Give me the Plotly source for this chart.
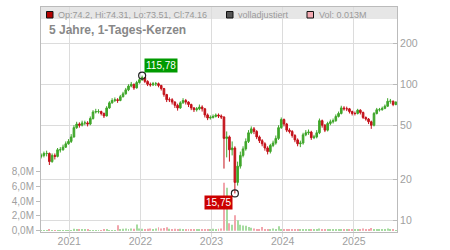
import math
import pandas as pd
import plotly.graph_objects as go

# ---- data ----
dates = pd.date_range("2020-08-10", periods=131, freq="14D")

close = [30, 31, 31, 27, 30, 29.5, 33, 33, 34.5, 36.5,
         38, 41, 48, 51, 50, 52, 52, 51, 56, 62.5,
         63, 63, 61, 58.5, 67, 73, 76, 77, 76, 81,
         85, 91, 97, 100, 94, 103, 108, 112, 105, 100,
         99, 101, 101, 98, 93, 84, 77, 77, 74, 70,
         67, 73, 76, 74, 71, 67, 65, 66, 68, 66,
         59.5, 56.5, 57, 58, 59.4, 58.5, 57.5, 40, 41, 33,
         34, 19, 25, 30, 33.5, 38, 44, 47, 45, 41,
         38.5, 36.5, 34, 32, 35.5, 37, 40, 48, 55, 51,
         46, 45, 42, 39, 36.5, 37, 42.5, 44, 44.5, 40.5,
         41, 44, 54, 50, 46, 51.5, 53, 54, 58, 61,
         67, 66, 66, 63, 61, 61, 64.5, 62, 57, 55.5,
         53, 50, 61, 65, 65, 66.5, 69, 75, 75, 71,
         74.16]

high = [31, 32, 32.5, 31.5, 31, 31, 34, 34.5, 36, 38,
        39.5, 43, 50, 53, 52.5, 54, 54, 53.5, 58, 64.5,
        66, 65.5, 64, 62, 69, 75, 79, 80, 79, 83.5,
        88, 94, 100, 104, 101, 106, 111, 115.78, 113, 107,
        103, 104, 104, 103, 99, 94, 85, 80, 79, 75,
        72, 75, 79, 78, 75, 72, 68, 68, 71, 70,
        67, 61, 59, 60, 61, 61, 60, 58, 45, 42,
        38, 35, 27, 32, 35, 40, 46, 49, 48.5, 46,
        42, 39.5, 37.5, 35, 36.5, 38.5, 42, 50, 57, 56,
        52, 47.5, 46, 43, 40, 38.5, 44, 46, 46.5, 45.5,
        42.5, 46, 56, 55, 51, 53, 55, 56, 60, 63,
        69.5, 69, 68.5, 67, 64, 63, 66, 65.5, 63, 58,
        56.5, 54, 62.5, 67, 67, 68.5, 71, 79, 78, 76,
        74.31]

low = [28.5, 29, 29.5, 25.5, 26.5, 28, 29, 31.5, 32.5, 34,
       36, 37, 40.5, 47, 48, 49, 50, 49, 50, 55,
       61, 61, 59, 56.5, 58, 66, 72, 74, 73, 75,
       80, 84, 89, 95, 91, 93, 101, 106, 102, 97,
       96, 97, 97, 95, 90, 81, 74, 74, 71, 67,
       64, 66, 72, 71, 68, 64.5, 62.5, 63, 64.5, 63,
       57, 54.5, 55, 56, 57, 56.5, 55.5, 24, 29, 27,
       30, 15.75, 18, 24, 29, 32.5, 37, 43, 43, 39.5,
       37, 35, 32.5, 30.5, 31, 34.5, 36, 39, 47, 49,
       44.5, 43.5, 40.5, 37.5, 35, 34.5, 36, 41.5, 42.5, 39,
       39.5, 40, 43, 48, 44.5, 45, 50, 51.5, 53, 57,
       60, 64, 63.5, 61, 59, 59, 60, 60, 55.5, 54,
       51, 47, 49, 60, 63, 64, 65.5, 68, 72, 69,
       70]

volume_m = [0.05, 0.03, 0.08, 0.15, 0.05, 0.03, 0.04, 0.05, 0.04, 0.03,
            0.03, 0.05, 0.25, 0.22, 0.2, 0.2, 0.1, 0.12, 0.08, 0.05,
            0.04, 0.05, 0.08, 0.15, 0.12, 0.05, 0.04, 0.06, 0.75, 0.2,
            0.25, 0.3, 0.2, 0.3, 0.25, 0.85, 0.3, 0.25, 0.2, 0.25,
            0.3, 0.2, 0.3, 0.45, 0.3, 0.35, 0.45, 0.25, 0.2, 0.25,
            0.2, 0.25, 0.2, 0.15, 0.1, 0.1, 0.1, 0.15, 0.2, 0.15,
            0.15, 0.2, 0.2, 0.25, 0.2, 0.25, 0.3, 6.5, 5.8, 1.0,
            0.8, 2.1, 1.4, 0.8, 0.7, 0.65, 0.5, 0.4, 0.3, 0.2,
            0.15, 0.5, 0.15, 0.2, 0.15, 0.3, 0.2, 0.6, 0.2, 0.15,
            0.15, 0.2, 0.15, 0.1, 0.15, 0.15, 0.2, 0.15, 0.1, 0.15,
            0.2, 0.15, 0.3, 0.2, 0.15, 0.15, 0.1, 0.15, 0.1, 0.15,
            0.2, 0.15, 0.1, 0.1, 0.15, 0.1, 0.15, 0.1, 0.3, 0.15,
            0.1, 0.35, 0.2, 0.1, 0.15, 0.15, 0.1, 0.3, 0.15, 0.1,
            0.013]

open_ = [29.5] + close[:-1]

year_ticks = ["2021-01-01", "2022-01-01", "2023-01-01", "2024-01-01", "2025-01-01"]
year_labels = ["2021", "2022", "2023", "2024", "2025"]
price_ticks = [10, 20, 50, 100, 200]
vol_ticks = [0, 2e6, 4e6, 6e6, 8e6]
vol_labels = ["0,0M", "2,0M", "4,0M", "6,0M", "8,0M"]

hi_idx = high.index(max(high))
lo_idx = low.index(min(low))

# ---- figure ----
GREEN = "#3fa62a"
RED = "#c4121b"
vol_colors = ["#a6dba0" if c >= o else "#f2a5ad" for o, c in zip(open_, close)]
FONT = "Liberation Sans, Arial, sans-serif"

fig = go.Figure()
fig.add_trace(go.Bar(
    x=dates, y=[v * 1e6 for v in volume_m], marker=dict(color=vol_colors, line=dict(width=0)),
    width=5 * 86400000, yaxis="y", xaxis="x", hoverinfo="skip"))
fig.add_trace(go.Candlestick(
    x=dates, open=open_, high=high, low=low, close=close, yaxis="y2", xaxis="x",
    increasing=dict(line=dict(color=GREEN, width=1), fillcolor=GREEN),
    decreasing=dict(line=dict(color=RED, width=1), fillcolor=RED),
    whiskerwidth=0))
fig.add_trace(go.Scatter(
    x=[dates[hi_idx], dates[lo_idx]], y=[high[hi_idx], low[lo_idx]], yaxis="y2", mode="markers",
    marker=dict(symbol="circle-open", size=7, color="#222", line=dict(width=1.2))))

axis_font = dict(family=FONT, size=10.5, color="#a0a0a0")
fig.update_layout(
    width=450, height=250, margin=dict(l=41, r=53, t=7, b=18, autoexpand=False),
    paper_bgcolor="white", plot_bgcolor="white", showlegend=False,
    font=dict(family=FONT), boxgap=0.15,
    xaxis=dict(type="date", range=["2020-08-09", "2025-08-10"], tickvals=year_ticks, ticktext=year_labels,
               showgrid=True, gridcolor="#dcdcdc", gridwidth=1, showline=True, linecolor="#bbbbbb",
               mirror=True, ticks="outside", ticklen=4, tickcolor="#dcdcdc", tickfont=axis_font,
               ticklabelstandoff=-5,
               rangeslider=dict(visible=False), zeroline=False, automargin=False),
    yaxis=dict(range=[-0.18e6, 30.3e6], side="left", tickvals=vol_ticks, ticktext=vol_labels,
               showgrid=False, zeroline=False, showline=True, linecolor="#bbbbbb", automargin=False,
               ticks="outside", ticklen=4, tickcolor="#bbbbbb", tickfont=dict(family=FONT, size=10, color="#a0a0a0")),
    yaxis2=dict(type="log", overlaying="y", side="right", range=[0.914, 2.568], tickvals=price_ticks,
                ticktext=[str(t) for t in price_ticks], showgrid=True, gridcolor="#dcdcdc", gridwidth=1,
                showline=True, linecolor="#bbbbbb", ticks="inside", ticklen=4, tickcolor="#bbbbbb",
                tickfont=axis_font, zeroline=False, automargin=False),
)

def px_x(p):
    return (p - 41) / 356.0

def px_y(p):
    return (232 - p) / 225.0

shapes = [
    dict(type="rect", xref="paper", yref="paper", x0=0, x1=1, y0=px_y(19), y1=1,
         fillcolor="#e6e6e6", line=dict(width=0), layer="below"),
    dict(type="rect", xref="paper", yref="paper", x0=px_x(46.5), x1=px_x(53), y0=px_y(18), y1=px_y(11.5),
         fillcolor="#b30000", line=dict(color="#111", width=1)),
    dict(type="rect", xref="paper", yref="paper", x0=px_x(226.5), x1=px_x(233), y0=px_y(18), y1=px_y(11.5),
         fillcolor="#555555", line=dict(color="#111", width=1)),
    dict(type="rect", xref="paper", yref="paper", x0=px_x(307), x1=px_x(313.5), y0=px_y(18), y1=px_y(11.5),
         fillcolor="#f4aab2", line=dict(color="#111", width=1)),
]
fig.update_layout(shapes=shapes)

leg_font = dict(family=FONT, size=9, color="#9a9a9a")
ann = [
    dict(text="Op:74.2, Hi:74.31, Lo:73.51, Cl:74.16", x=px_x(56), y=px_y(14.8)),
    dict(text="volladjustiert", x=px_x(236), y=px_y(14.8)),
    dict(text="Vol: 0.013M", x=px_x(317), y=px_y(14.8)),
]
for a in ann:
    fig.add_annotation(xref="paper", yref="paper", xanchor="left", yanchor="middle",
                       showarrow=False, font=leg_font, **a)
fig.add_annotation(xref="paper", yref="paper", x=px_x(47), y=px_y(30), xanchor="left", yanchor="middle",
                   text="<b>5 Jahre, 1-Tages-Kerzen</b>", showarrow=False,
                   font=dict(family=FONT, size=12, color="#888888"))

fig.add_annotation(x=dates[hi_idx], y=math.log10(high[hi_idx]), xref="x", yref="y2",
                   text="115,78", showarrow=False, xshift=19, yshift=10, bgcolor="#009a00",
                   font=dict(family=FONT, size=10, color="white"), borderpad=1)
fig.add_annotation(x=dates[lo_idx], y=math.log10(low[lo_idx]), xref="x", yref="y2",
                   text="15,75", showarrow=False, xshift=-16, yshift=-9, bgcolor="#cc0000",
                   font=dict(family=FONT, size=10, color="white"), borderpad=1)

fig.write_html("out.html")
